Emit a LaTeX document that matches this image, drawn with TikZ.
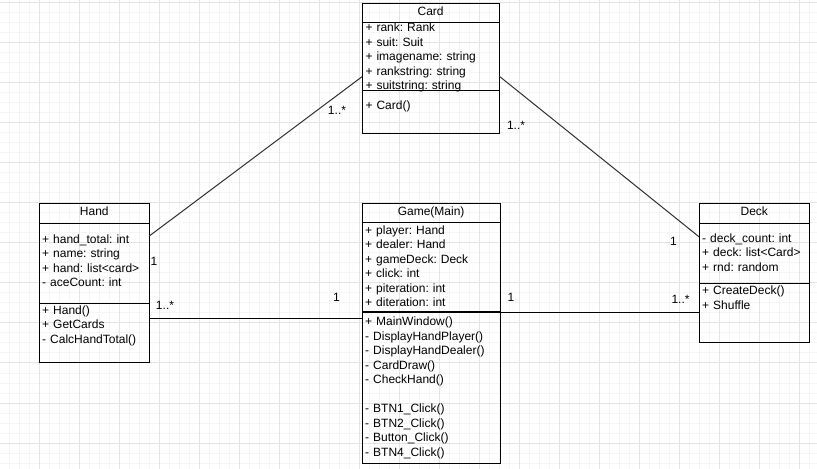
\documentclass[tikz,border=0pt]{standalone}
\usepackage{fontspec}
\setmainfont{Liberation Sans}
\usetikzlibrary{positioning}
\usepackage{xcolor}
\definecolor{gridmaj}{HTML}{E4E4E4}
\definecolor{gridmin}{HTML}{F5F5F5}
\definecolor{assocgray}{HTML}{303030}
\frenchspacing

\tikzset{
  classhead/.style={rectangle, draw, line width=1bp, outer sep=0pt, inner sep=0pt, text height=8.6bp, text depth=3.4bp},
  classpart/.style={rectangle, draw, line width=1bp, outer sep=0pt, inner sep=0pt},
  members/.style={anchor=base west, inner sep=0pt, text width=132bp, align=left},
  mult/.style={inner sep=0pt},
  assoc/.style={line width=1bp},
}

\begin{document}
\begin{tikzpicture}[x=1bp, y=-1bp, font=\fontsize{12bp}{14.5bp}\selectfont]
\useasboundingbox (0,0) rectangle (817,469);
\fill[white] (0,0) rectangle (817,469);
% background grid
\foreach \gx in {9,19,...,809} \draw[gridmin, line width=1bp] (\gx,0) -- (\gx,469);
\foreach \gy in {3,13,...,463} \draw[gridmin, line width=1bp] (0,\gy) -- (817,\gy);
\foreach \gx in {39,79,...,799} \draw[gridmaj, line width=1bp] (\gx,0) -- (\gx,469);
\foreach \gy in {3,43,...,443} \draw[gridmaj, line width=1bp] (0,\gy) -- (817,\gy);

% Card
\node[classhead, minimum width=136.7bp, minimum height=19bp] (cardhead) at (430.65,12.8) {Card};
\node[classpart, minimum width=136.7bp, minimum height=68.4bp, below=0pt of cardhead] (cardattr) {};
\node[classpart, minimum width=136.7bp, minimum height=42.6bp, below=0pt of cardattr] (cardmeth) {};
\node[members] (cardattrtxt) at ([shift={(3,9.4)}]cardattr.north west)
  {+ rank: Rank\\+ suit: Suit\\+ imagename: string\\+ rankstring: string\\+ suitstring: string};
\node[members] (cardmethtxt) at ([shift={(3,18.6)}]cardmeth.north west) {+ Card()};

% Hand
\node[classhead, minimum width=110bp, minimum height=20bp] (handhead) at (94.3,213.3) {Hand};
\node[classpart, minimum width=110bp, minimum height=80bp, below=0pt of handhead] (handattr) {};
\node[classpart, minimum width=110bp, minimum height=59.4bp, below=0pt of handattr] (handmeth) {};
\node[members] (handattrtxt) at ([shift={(2.7,20)}]handattr.north west)
  {+ hand\_total: int\\+ name: string\\+ hand: list<card>\\- aceCount: int};
\node[members] (handmethtxt) at ([shift={(2.7,11)}]handmeth.north west)
  {+ Hand()\\+ GetCards\\- CalcHandTotal()};

% Game(Main)
\node[classhead, minimum width=137.7bp, minimum height=19bp] (gamehead) at (431.15,212.8) {Game(Main)};
\node[classpart, minimum width=137.7bp, minimum height=90bp, below=0pt of gamehead] (gameattr) {};
\node[classpart, minimum width=137.7bp, minimum height=151bp, below=0pt of gameattr] (gamemeth) {};
\draw[line width=2bp] (gameattr.south west) -- (gameattr.south east);
\node[members] (gameattrtxt) at ([shift={(2.7,12)}]gameattr.north west)
  {+ player: Hand\\+ dealer: Hand\\+ gameDeck: Deck\\+ click: int\\+ piteration: int\\+ diteration: int};
\node[members] (gamemethtxt) at ([shift={(2.7,13.4)}]gamemeth.north west)
  {+ MainWindow()\\- DisplayHandPlayer()\\- DisplayHandDealer()\\- CardDraw()\\- CheckHand()\\[14.5bp]
   - BTN1\_Click()\\- BTN2\_Click()\\- Button\_Click()\\- BTN4\_Click()};

% Deck
\node[classhead, minimum width=110bp, minimum height=20bp] (deckhead) at (754.3,213.3) {Deck};
\node[classpart, minimum width=110bp, minimum height=60bp, below=0pt of deckhead] (deckattr) {};
\node[classpart, minimum width=110bp, minimum height=59.4bp, below=0pt of deckattr] (deckmeth) {};
\node[members] (deckattrtxt) at ([shift={(2.7,19)}]deckattr.north west)
  {- deck\_count: int\\+ deck: list<Card>\\+ rnd: random};
\node[members] (deckmethtxt) at ([shift={(2.7,11.7)}]deckmeth.north west)
  {+ CreateDeck()\\+ Shuffle};

% associations
\draw[assoc, assocgray] ([yshift=-12.7bp]handattr.north east) -- ([yshift=-54.2bp]cardattr.north west);
\draw[assoc, assocgray] ([yshift=-53.7bp]cardattr.north east) -- ([yshift=-13.7bp]deckattr.north west);
\draw[assoc] ([yshift=-14.7bp]handmeth.north east) coordinate (hg) -- (hg -| gamemeth.west);
\draw[assoc] (gamemeth.north east) -- (gamemeth.north east -| deckmeth.west);

% multiplicities
\node[mult] (hcmany) at (337,110.5) {1..*};
\node[mult] (hcone) at (154,261) {1};
\node[mult] (cdmany) at (516,125.5) {1..*};
\node[mult] (cdone) at (673.5,241) {1};
\node[mult] (hgmany) at (165,305) {1..*};
\node[mult] (hgone) at (336.5,297.5) {1};
\node[mult] (gdone) at (511,297.5) {1};
\node[mult] (gdmany) at (680.5,299.5) {1..*};
\end{tikzpicture}
\end{document}
